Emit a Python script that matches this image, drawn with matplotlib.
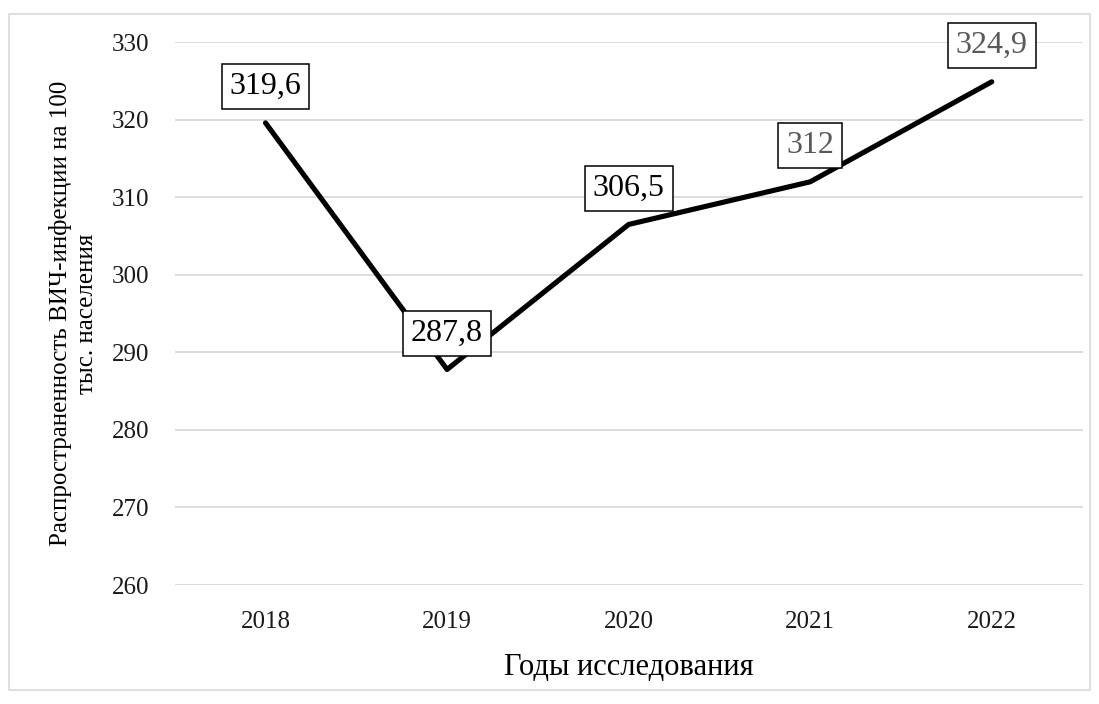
import matplotlib.pyplot as plt
from matplotlib.patches import Rectangle

years = ["2018", "2019", "2020", "2021", "2022"]
values = [319.6, 287.8, 306.5, 312.0, 324.9]
labels = ["319,6", "287,8", "306,5", "312", "324,9"]
label_colors = ["black", "black", "black", "#595959", "#595959"]

plt.rcParams['font.family'] = ['Liberation Serif', 'DejaVu Serif']

fig = plt.figure(figsize=(10.99, 7.04), dpi=100)
ax = fig.add_axes([0.159, 0.169, 0.826, 0.771])

# рамка вокруг диаграммы
fig.patches.append(Rectangle((9 / 1099, 14 / 704), 1081 / 1099, 676 / 704,
                             transform=fig.transFigure, fill=False,
                             edgecolor="#d9d9d9", linewidth=1.2))

x = list(range(len(years)))
ax.plot(x, values, color="black", linewidth=3.7,
        solid_joinstyle="round", solid_capstyle="round")

for xi, v, lab, c in zip(x, values, labels, label_colors):
    ax.annotate(lab, (xi, v), xytext=(0, 26), textcoords="offset points",
                ha="center", va="center", fontsize=23, color=c,
                bbox=dict(boxstyle="square,pad=0.25", fc="white", ec="black", lw=1.1))

ax.set_xlim(-0.5, 4.5)
ax.set_ylim(260, 330)
ax.set_yticks(range(260, 331, 10))
ax.set_xticks(x)
ax.set_xticklabels(years)
ax.tick_params(axis="both", length=0, labelsize=18, colors="#1a1a1a")
ax.tick_params(axis="y", pad=18)
ax.tick_params(axis="x", pad=19)
ax.grid(axis="y", color="#d9d9d9", linewidth=1.3)
ax.set_axisbelow(True)
for s in ax.spines.values():
    s.set_visible(False)

ax.set_xlabel("Годы исследования", fontsize=22, labelpad=14)
ax.set_ylabel("Распространенность ВИЧ-инфекции на 100\nтыс. населения", fontsize=18,
              labelpad=10, linespacing=1.25)

fig.savefig("out.png", dpi=100)
